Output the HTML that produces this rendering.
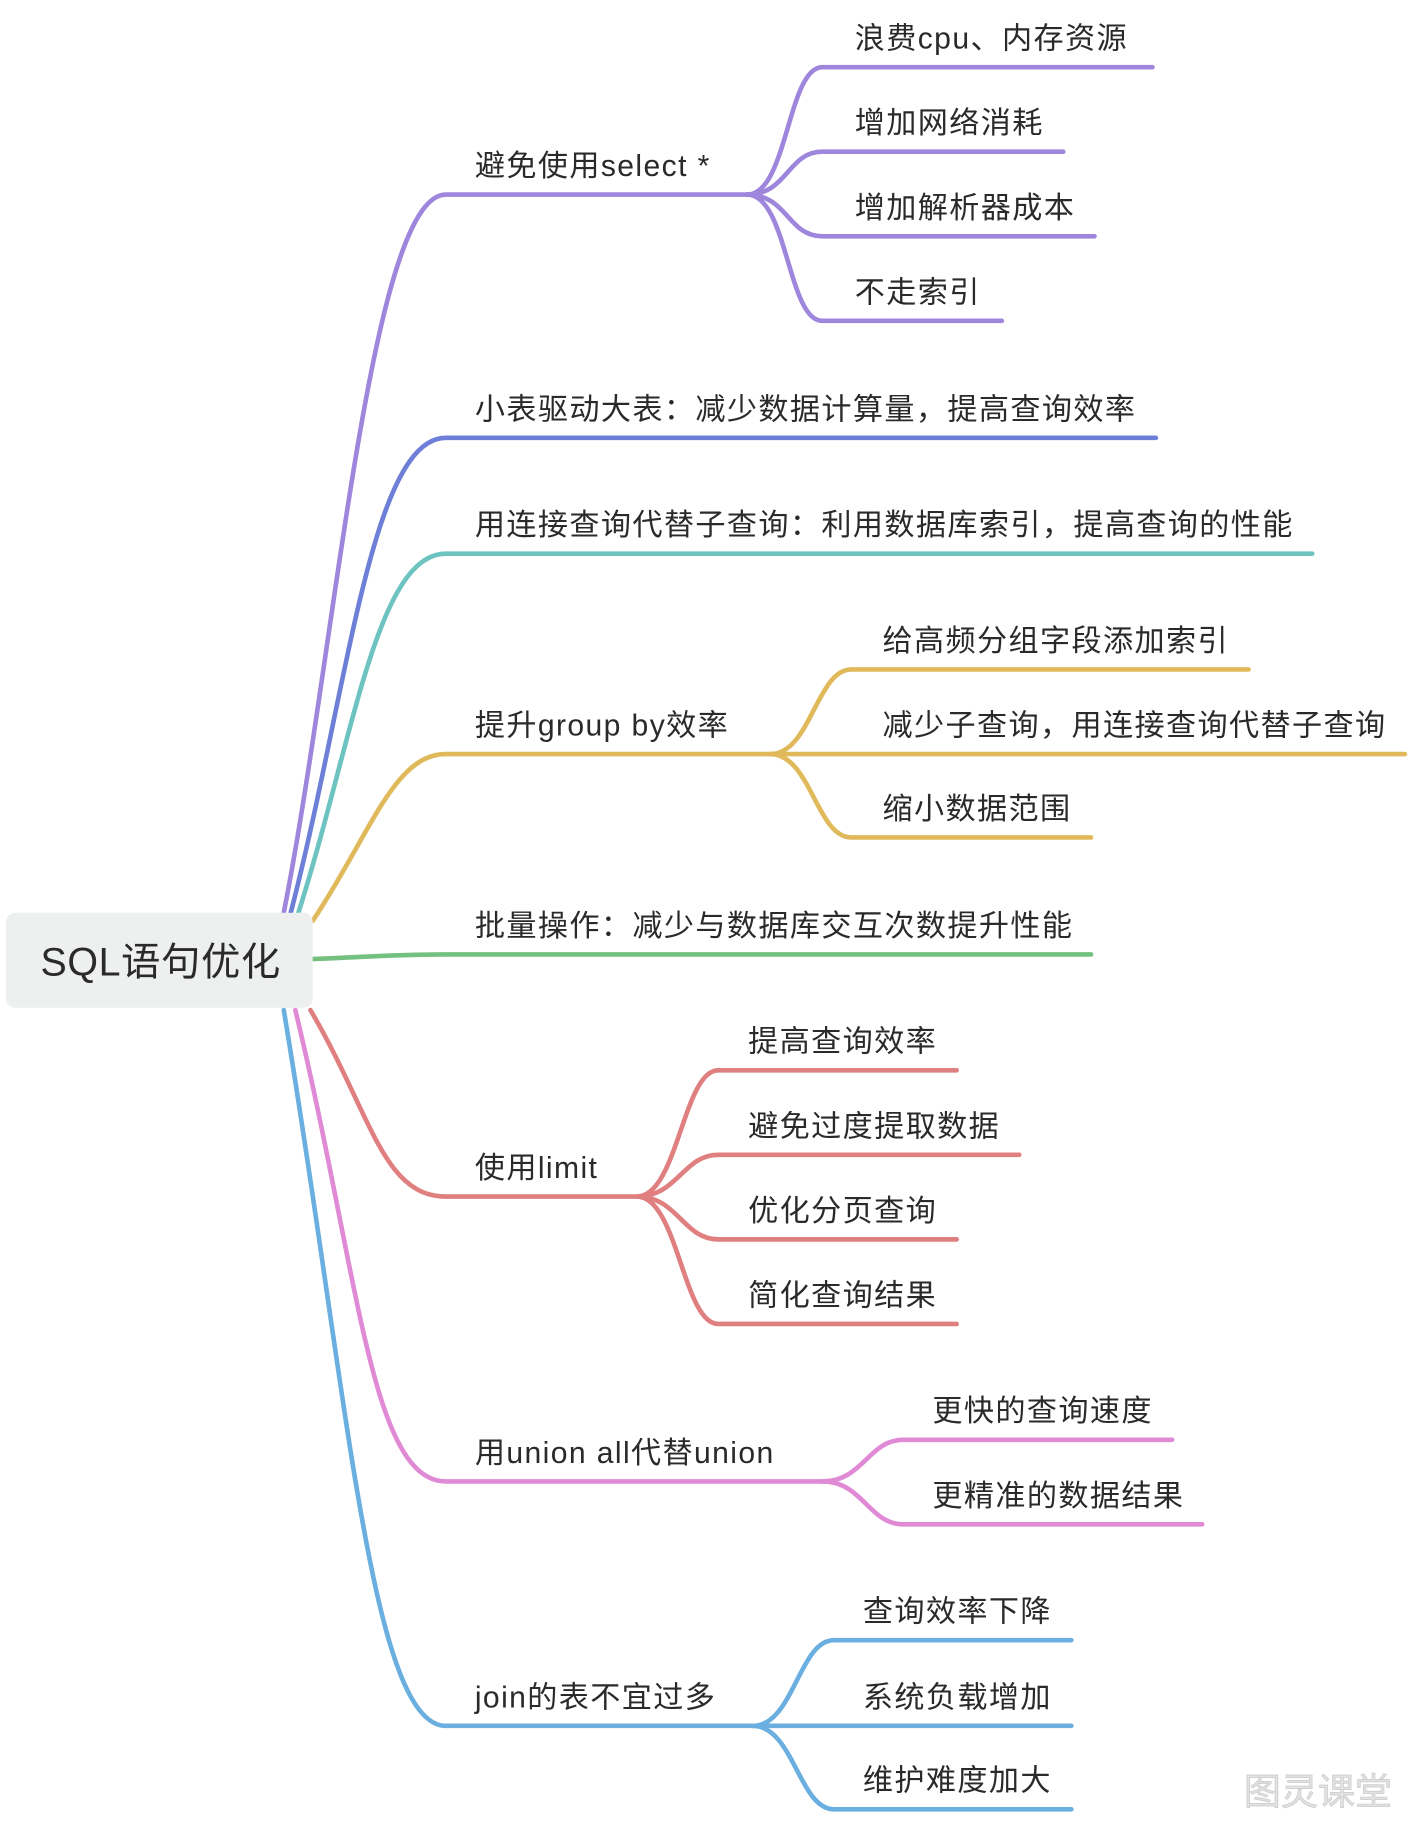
<!DOCTYPE html>
<html><head><meta charset="utf-8"><style>
html,body{margin:0;padding:0;background:#fff;}
svg{display:block}
text{font-family:"Liberation Sans","Noto Sans CJK SC",sans-serif;fill:#2a2a2a;font-size:26px;letter-spacing:1.2px}
path{fill:none;stroke-width:4;stroke-linecap:round}
</style></head><body>
<svg width="1413" height="1822" viewBox="0 0 1220 1573" preserveAspectRatio="none" xmlns="http://www.w3.org/2000/svg">
<path stroke="#9f86dd" d="M245 788 C290 560 320 168 385 168 L645 168"/>
<path stroke="#6e7fd8" d="M251 788 C300 600 320 378 385 378 L998 378"/>
<path stroke="#6cc3c0" d="M257 790 C305 640 325 478 385 478 L1133 478"/>
<path stroke="#e0b95a" d="M270 795 C320 720 340 651 385 651 L665 651"/>
<path stroke="#74c07f" d="M270 828 C320 826 340 824 385 824 L942 824"/>
<path stroke="#e07f7f" d="M268 872 C320 960 330 1033 385 1033 L550 1033"/>
<path stroke="#e08ad6" d="M255 872 C310 1100 320 1279 385 1279 L710 1279"/>
<path stroke="#6aafe0" d="M245 872 C300 1200 320 1490 385 1490 L650 1490"/>
<rect x="5" y="788" width="265" height="82" rx="8" fill="#eef0ef"/>
<text x="35" y="842" style="font-size:34px;letter-spacing:0.5px">SQL语句优化</text>
<g stroke="#9f86dd">
<path d="M645 168 C680 168 680 58 710 58 L995 58"/>
<path d="M645 168 C680 168 680 131 710 131 L918 131"/>
<path d="M645 168 C680 168 680 204 710 204 L945 204"/>
<path d="M645 168 C680 168 680 277 710 277 L865 277"/>
</g>
<text x="410" y="152">避免使用select *</text>
<text x="738" y="42">浪费cpu、内存资源</text>
<text x="738" y="115">增加网络消耗</text>
<text x="738" y="188">增加解析器成本</text>
<text x="738" y="261">不走索引</text>
<text x="410" y="362">小表驱动大表：减少数据计算量，提高查询效率</text>
<text x="410" y="462">用连接查询代替子查询：利用数据库索引，提高查询的性能</text>
<g stroke="#e0b95a">
<path d="M665 651 C700 651 705 578 735 578 L1078 578"/>
<path d="M665 651 L1213 651"/>
<path d="M665 651 C700 651 705 723 735 723 L942 723"/>
</g>
<text x="410" y="635">提升group by效率</text>
<text x="762" y="562">给高频分组字段添加索引</text>
<text x="762" y="635">减少子查询，用连接查询代替子查询</text>
<text x="762" y="707">缩小数据范围</text>
<text x="410" y="808">批量操作：减少与数据库交互次数提升性能</text>
<g stroke="#e07f7f">
<path d="M550 1033 C585 1033 590 924 620 924 L826 924"/>
<path d="M550 1033 C585 1033 590 997 620 997 L880 997"/>
<path d="M550 1033 C585 1033 590 1070 620 1070 L826 1070"/>
<path d="M550 1033 C585 1033 590 1143 620 1143 L826 1143"/>
</g>
<text x="410" y="1017">使用limit</text>
<text x="646" y="908">提高查询效率</text>
<text x="646" y="981">避免过度提取数据</text>
<text x="646" y="1054">优化分页查询</text>
<text x="646" y="1127">简化查询结果</text>
<g stroke="#e08ad6">
<path d="M710 1279 C745 1279 750 1243 780 1243 L1012 1243"/>
<path d="M710 1279 C745 1279 750 1316 780 1316 L1038 1316"/>
</g>
<text x="410" y="1263">用union all代替union</text>
<text x="805" y="1227">更快的查询速度</text>
<text x="805" y="1300">更精准的数据结果</text>
<g stroke="#6aafe0">
<path d="M650 1490 C685 1490 690 1416 720 1416 L925 1416"/>
<path d="M650 1490 L925 1490"/>
<path d="M650 1490 C685 1490 690 1562 720 1562 L925 1562"/>
</g>
<text x="410" y="1474">join的表不宜过多</text>
<text x="745" y="1400">查询效率下降</text>
<text x="745" y="1474">系统负载增加</text>
<text x="745" y="1546">维护难度加大</text>
<text x="1074" y="1558" style="font-size:32px;fill:#e2e2e2;stroke:#c8c8c8;stroke-width:0.6;letter-spacing:0">图灵课堂</text>
</svg>
</body></html>
